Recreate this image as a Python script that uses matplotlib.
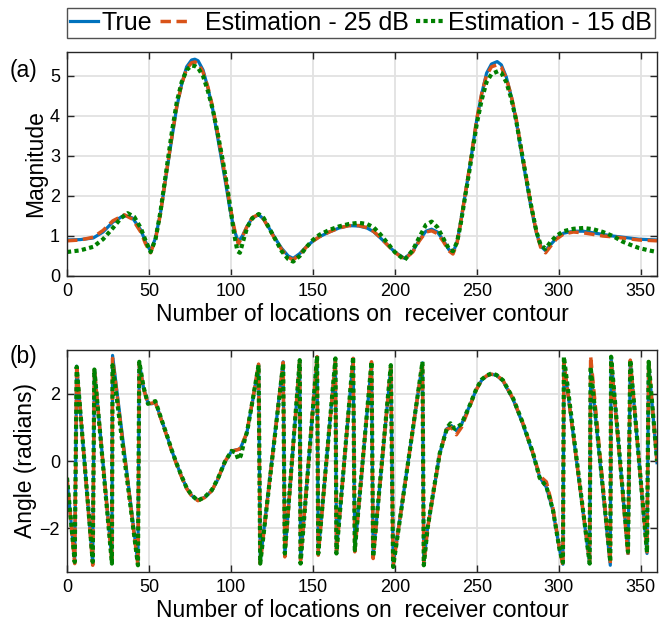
import matplotlib
matplotlib.use("Agg")
import matplotlib.pyplot as plt

plt.rcParams['font.family'] = ['Liberation Sans', 'DejaVu Sans']

# ---------------- data: magnitude ----------------
mag_true_x = [0, 8, 16, 22, 28, 35, 40, 45, 48, 51, 54, 57, 61, 64, 67, 70, 73, 76, 78, 80, 83, 86, 89, 92,
              95, 97.5, 99.5, 102, 104.5, 107, 110, 113, 117, 120, 124, 128, 131, 135, 138, 142, 146, 150,
              154, 160, 166, 172, 178, 183, 187, 191, 195, 200, 206, 211, 215, 219, 222.5, 226, 229.5, 233,
              235.5, 238, 240, 243, 246, 250, 253, 256, 259, 262.5, 265, 268, 271, 274, 277, 280, 283,
              286.5, 289, 292, 295, 298.5, 303, 309, 315, 321, 327, 333, 341, 349, 360]
mag_true_y = [0.90, 0.91, 0.95, 1.10, 1.35, 1.52, 1.45, 1.15, 0.85, 0.62, 0.95, 1.57, 2.65, 3.45, 4.23, 4.80,
              5.23, 5.40, 5.42, 5.38, 5.15, 4.70, 4.15, 3.45, 2.75, 2.15, 1.65, 1.15, 0.86, 1.00, 1.25, 1.45,
              1.53, 1.42, 1.15, 0.88, 0.69, 0.50, 0.44, 0.56, 0.73, 0.87, 0.98, 1.10, 1.20, 1.26, 1.25, 1.20,
              1.11, 0.96, 0.80, 0.60, 0.44, 0.62, 0.90, 1.12, 1.17, 1.10, 0.90, 0.66, 0.58, 0.85, 1.30, 2.05,
              2.80, 3.90, 4.55, 5.07, 5.30, 5.36, 5.28, 4.98, 4.50, 3.90, 3.15, 2.45, 1.75, 1.07, 0.75, 0.63,
              0.78, 0.94, 1.07, 1.12, 1.12, 1.08, 1.04, 1.00, 0.96, 0.92, 0.90]

mag_25_x = mag_true_x
mag_25_y = [0.88, 0.90, 0.97, 1.14, 1.38, 1.53, 1.42, 1.10, 0.80, 0.58, 0.92, 1.55, 2.68, 3.48, 4.25, 4.80,
            5.18, 5.33, 5.35, 5.32, 5.10, 4.72, 4.20, 3.55, 2.85, 2.25, 1.75, 1.20, 0.80, 0.98, 1.25, 1.46,
            1.54, 1.42, 1.13, 0.85, 0.66, 0.47, 0.40, 0.54, 0.72, 0.87, 0.98, 1.10, 1.20, 1.26, 1.26, 1.21,
            1.12, 0.97, 0.80, 0.59, 0.42, 0.60, 0.88, 1.10, 1.13, 1.06, 0.87, 0.63, 0.55, 0.82, 1.28, 2.05,
            2.82, 3.92, 4.55, 5.02, 5.23, 5.28, 5.22, 4.95, 4.52, 3.95, 3.22, 2.52, 1.80, 1.08, 0.72, 0.58,
            0.74, 0.92, 1.05, 1.10, 1.08, 1.04, 1.00, 0.98, 0.94, 0.90, 0.88]

mag_15_x = [0, 8, 16, 22, 28, 33, 37, 41, 45, 48, 51, 54, 57, 61, 64, 67, 70, 73, 76, 78, 80, 83, 86, 89, 92,
            95, 97.5, 99.5, 102, 104, 105.5, 108, 110, 113, 117, 120, 124, 128, 131, 135, 138, 142, 146, 150,
            154, 160, 166, 172, 178, 183, 187, 191, 195, 200, 206, 211, 215, 219, 222.5, 226, 229.5, 233,
            235.5, 238, 240, 243, 246, 250, 253, 256, 259, 263, 265, 268, 271, 274, 277, 280, 283, 286.5,
            289, 292, 295, 298.5, 303, 309, 315, 321, 327, 333, 339, 345, 349, 355, 360]
mag_15_y = [0.60, 0.64, 0.73, 0.92, 1.20, 1.45, 1.57, 1.48, 1.20, 0.88, 0.60, 0.92, 1.60, 2.75, 3.60, 4.35,
            4.85, 5.15, 5.26, 5.25, 5.20, 5.00, 4.62, 4.15, 3.55, 2.90, 2.30, 1.75, 1.05, 0.62, 0.58, 0.95,
            1.22, 1.44, 1.55, 1.45, 1.15, 0.85, 0.62, 0.42, 0.36, 0.50, 0.72, 0.90, 1.03, 1.15, 1.24, 1.30,
            1.33, 1.30, 1.22, 1.05, 0.85, 0.60, 0.40, 0.65, 0.97, 1.28, 1.36, 1.22, 0.95, 0.68, 0.62, 0.85,
            1.25, 2.00, 2.75, 3.80, 4.40, 4.85, 5.05, 5.12, 5.08, 4.85, 4.45, 3.90, 3.20, 2.50, 1.80, 1.10,
            0.78, 0.68, 0.85, 1.00, 1.12, 1.18, 1.20, 1.17, 1.10, 1.00, 0.86, 0.76, 0.70, 0.64, 0.60]

# ---------------- data: phase ----------------
ph_true_x = [0, 4.7, 5.9, 15.7, 16.7, 27.4, 27.8, 43.3, 44.1, 46.7, 49.4, 51.8, 53.9, 57.9, 61, 64, 67,
             70.1, 73, 76.2, 79.9, 84.3, 88.4, 92, 96.3, 100.4, 103, 105.5, 109.6, 113.6, 116.9, 117.9,
             131.9, 132.9, 142, 142.5, 152.6, 153.3, 163.8, 164.4, 174.6, 175.6, 185.8, 186.8, 197.6, 199.0,
             216.9, 217.7, 220, 223.4, 227.4, 231.5, 234.6, 237.6, 240.7, 245.7, 249.8, 253, 255.9, 258.9,
             262, 266, 272.2, 278.2, 284.3, 288.4, 292.5, 296.5, 300.6, 302.6, 303.2, 318.9, 319.5, 331.5,
             332.0, 342.3, 343.7, 353.9, 354.9, 360]
ph_true_y = [-0.55, -2.95, 2.82, -3.05, 2.72, -2.93, 3.14, -3.05, 2.92, 2.18, 1.72, 1.70, 1.76, 1.19, 0.75,
             0.30, -0.10, -0.48, -0.80, -1.03, -1.17, -1.07, -0.88, -0.55, -0.04, 0.29, 0.33, 0.35, 0.80,
             1.88, 2.87, -3.00, 2.95, -2.80, 2.97, -2.95, 3.09, -2.73, 3.02, -2.70, 3.05, -2.65, 2.92, -2.85,
             2.80, -3.10, 2.92, -3.05, -2.00, -0.98, 0.21, 0.95, 1.05, 0.90, 1.09, 1.64, 2.13, 2.40, 2.52,
             2.58, 2.55, 2.38, 1.83, 1.09, 0.21, -0.48, -0.78, -1.47, -2.65, -3.07, 2.95, -3.05, 2.77, -3.10,
             3.07, -2.75, 2.97, -2.75, 2.92, -0.05]

ph_25_x = ph_true_x
ph_25_y = [-0.50, -3.05, 2.85, -3.10, 2.75, -3.00, 3.05, -3.10, 2.90, 2.15, 1.70, 1.72, 1.74, 1.17, 0.73,
           0.28, -0.12, -0.50, -0.82, -1.05, -1.18, -1.08, -0.88, -0.54, -0.02, 0.30, 0.32, 0.36, 0.82,
           1.90, 2.88, -3.05, 2.93, -2.85, 3.00, -2.95, 3.10, -2.80, 3.00, -2.75, 3.05, -2.70, 2.95, -2.90,
           2.82, -3.12, 2.92, -3.08, -2.02, -1.00, 0.20, 0.93, 1.00, 0.78, 1.00, 1.62, 2.12, 2.40, 2.53,
           2.58, 2.55, 2.40, 1.85, 1.12, 0.24, -0.44, -0.62, -1.40, -2.62, -3.12, 2.92, -3.00, 3.12, -3.05,
           3.00, -2.80, 3.00, -2.70, 2.95, -0.02]

ph_15_x = [0, 4.7, 5.9, 15.7, 16.7, 27.4, 27.8, 43.3, 44.1, 46.7, 49.4, 51.8, 53.9, 57.9, 61, 64, 67,
           70.1, 73, 76.2, 79.9, 84.3, 88.4, 92, 96.3, 100.4, 103, 104.5, 106, 108, 110, 113.6, 116.9, 117.9,
           131.9, 132.9, 142, 142.5, 152.6, 153.3, 163.8, 164.4, 174.6, 175.6, 185.8, 186.8, 197.6, 199.0,
           216.9, 217.7, 220, 223.4, 227.4, 232, 234, 236.5, 238.5, 240.7, 245.7, 249.8, 253, 255.9, 258.9,
           262, 266, 272.2, 278.2, 284.3, 288.4, 292.5, 296.5, 300.6, 302.6, 303.2, 318.9, 319.5, 331.5,
           332.0, 342.3, 343.7, 353.9, 354.9, 360]
ph_15_y = [-0.50, -3.00, 2.80, -3.00, 2.72, -3.05, 2.85, -3.10, 2.95, 2.20, 1.70, 1.74, 1.78, 1.20, 0.76,
           0.31, -0.09, -0.47, -0.80, -1.02, -1.18, -1.06, -0.86, -0.53, -0.03, 0.30, 0.25, 0.05, 0.15, 0.55,
           0.90, 1.90, 2.85, -3.05, 2.90, -2.75, 3.00, -3.05, 3.12, -2.75, 3.05, -2.75, 3.10, -2.65, 2.95,
           -2.85, 2.85, -3.15, 2.95, -3.10, -2.00, -0.96, 0.22, 1.00, 1.12, 0.96, 1.02, 1.10, 1.65, 2.15,
           2.42, 2.54, 2.60, 2.56, 2.40, 1.86, 1.12, 0.24, -0.50, -0.76, -1.45, -2.65, -3.02, 3.10, -3.05,
           2.80, -3.00, 3.10, -2.70, 3.00, -2.72, 2.95, 0.00]

# ---------------- style ----------------
C_BLUE = '#0072BD'
C_ORANGE = '#D95319'
C_GREEN = '#008000'
SPINE = '#262626'

fig = plt.figure(figsize=(6.68, 6.32), dpi=100)
ax1 = fig.add_axes([67/668, 1-276/632, 590/668, 224/632])
ax2 = fig.add_axes([67/668, 1-572/632, 590/668, 222/632])

xticks = [0, 50, 100, 150, 200, 250, 300, 350]

def style(ax):
    ax.set_xlim(0, 360)
    ax.set_xticks(xticks)
    ax.grid(True, color='#e2e2e2', linewidth=1.3)
    ax.set_axisbelow(True)
    for s in ax.spines.values():
        s.set_color(SPINE)
        s.set_linewidth(1.0)
    ax.tick_params(direction='in', top=True, right=True, length=5, width=1.0,
                   colors=SPINE, labelcolor='black', labelsize=13, pad=5)
    ax.set_xlabel('Number of locations on  receiver contour', fontsize=16.5, labelpad=2)

l1, = ax1.plot(mag_true_x, mag_true_y, color=C_BLUE, lw=2.3, solid_joinstyle='round')
l2, = ax1.plot(mag_25_x, mag_25_y, color=C_ORANGE, lw=2.5, linestyle=(0, (3, 1.6)), dash_capstyle='butt')
l3, = ax1.plot(mag_15_x, mag_15_y, color=C_GREEN, lw=3.0, linestyle=(0, (1, 0.8)), dash_capstyle='butt')
ax1.set_ylim(0, 5.6)
ax1.set_yticks([0, 1, 2, 3, 4, 5])
ax1.set_ylabel('Magnitude', fontsize=16.5, labelpad=2)
style(ax1)

ax2.plot(ph_true_x, ph_true_y, color=C_BLUE, lw=2.3, solid_joinstyle='round')
ax2.plot(ph_25_x, ph_25_y, color=C_ORANGE, lw=2.5, linestyle=(0, (3, 1.6)), dash_capstyle='butt')
ax2.plot(ph_15_x, ph_15_y, color=C_GREEN, lw=3.0, linestyle=(0, (1, 0.8)), dash_capstyle='butt')
ax2.set_ylim(-3.3, 3.3)
ax2.set_yticks([-2, 0, 2])
ax2.set_ylabel('Angle (radians)', fontsize=16.5, labelpad=2)
style(ax2)

fig.text(10/668, 1-71/632, '(a)', fontsize=16.5, va='center', ha='left')
fig.text(10/668, 1-356/632, '(b)', fontsize=16.5, va='center', ha='left')

leg = fig.legend([l1, l2, l3], ['True', '  Estimation - 25 dB', 'Estimation - 15 dB'],
                 loc='center', bbox_to_anchor=(361/668, 1-23/632), ncol=3, fontsize=18,
                 frameon=True, fancybox=False, edgecolor=SPINE, handlelength=1.1,
                 handletextpad=0.15, columnspacing=0.3, borderpad=0.12, borderaxespad=0)
leg.get_frame().set_linewidth(1.0)

fig.savefig('out.png', dpi=100)
